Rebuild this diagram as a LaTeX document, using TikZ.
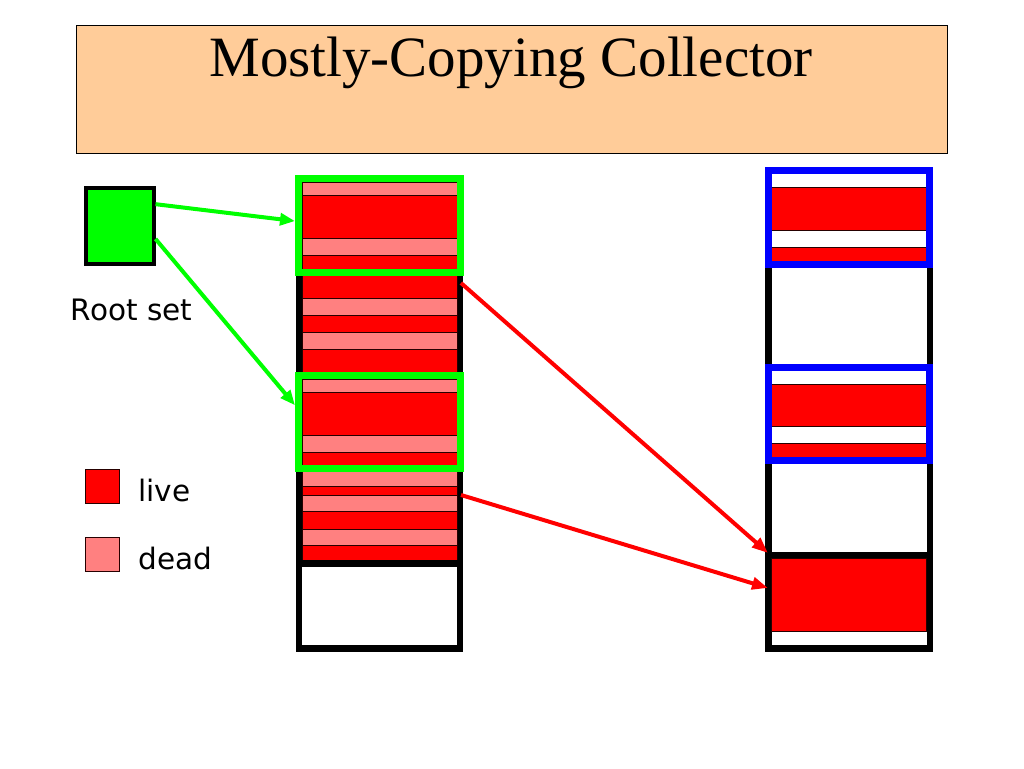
\documentclass[tikz,border=0pt]{standalone}
\usepackage{fontspec}
\setmainfont{Liberation Serif}
\newfontfamily\labelfont{DejaVu Sans}
\usetikzlibrary{arrows.meta}
\definecolor{live}{RGB}{255,0,0}
\definecolor{dead}{RGB}{255,128,128}
\definecolor{rootgreen}{RGB}{0,255,0}
\definecolor{pageblue}{RGB}{0,0,255}
\definecolor{peach}{RGB}{255,204,153}
\begin{document}
\begin{tikzpicture}[x=1pt,y=-1pt,
	obj/.style={draw=black!85!red, line width=0.8pt},
	space/.style={draw, line width=6.5pt, inner sep=0pt},
	page/.style={draw=#1, line width=7pt, inner sep=0pt},
	lbl/.style={anchor=base west, inner sep=0pt, font=\labelfont\fontsize{29.5}{33}\selectfont},
	garrow/.style={draw=rootgreen, line width=4pt, -{Triangle[length=15pt,width=12pt]}},
	rarrow/.style={draw=live, line width=4pt, -{Triangle[length=16pt,width=12pt]}}]
		\fill[white] (0,0) rectangle (1024,768);
		\useasboundingbox (0,0) rectangle (1024,768);
		\node[draw, line width=0.8pt, fill=peach, minimum width=871, minimum height=128] (titlebox) at (511.5,89) {};
		\node[anchor=base, inner sep=0pt, font=\fontsize{57}{60}\selectfont] (title) at (511,77) {Mostly-Copying Collector};
		\node[draw, line width=4pt, fill=rootgreen, minimum width=68, minimum height=76] (root) at (119.5,225.8) {};
		\node[lbl] (roottxt) at (70.7,320) {Root set};
		\node[obj, fill=live, minimum size=34] (keylive) at (102.5,486) {};
		\node[obj, fill=dead, minimum size=34] (keydead) at (102.5,554.5) {};
		\node[lbl] (livetxt) at (138.3,501.7) {live};
		\node[lbl] (deadtxt) at (138.3,569) {dead};
		\node[space, minimum width=161, minimum height=469.5] (fromsp) at (379.5,413.75) {};
		\node[space, minimum width=161.5, minimum height=478] (tosp) at (849,409.5) {};
		\foreach \a/\b/\c in {182.7/195.7/dead, 195.7/238.3/live, 238.3/255.7/dead, 255.7/272.5/live,
			272.5/298.3/live, 298.3/315/dead, 315/332.3/live, 332.3/349.3/dead, 349.3/379.3/live,
			379.3/392.3/dead, 392.3/435/live, 435/452.3/dead, 452.3/468.5/live, 468.5/486.7/dead,
			486.7/495/live, 495/511.7/dead, 511.7/529/live, 529/545.7/dead, 545.7/560/live}
			\filldraw[obj, fill=\c] (302,\a) rectangle (457,\b);
		\foreach \a/\b in {187.3/230, 247.3/261, 384/426.7, 443.3/457, 558.3/631.7}
			\filldraw[obj, fill=live] (771.7,\a) rectangle (926.7,\b);
		\draw[line width=6.5pt] (299,563.3) -- (460,563.3);
		\draw[line width=6.5pt] (768.3,555) -- (929.7,555);
		\node[page=rootgreen, minimum width=162, minimum height=94] (gA) at (379.5,225.5) {};
		\node[page=rootgreen, minimum width=162, minimum height=93] (gB) at (379.5,421.7) {};
		\node[page=pageblue, minimum width=161.4, minimum height=93.6] (bA) at (849,217.5) {};
		\node[page=pageblue, minimum width=161.4, minimum height=93.4] (bB) at (849,414) {};
		\coordinate (objA) at (461,283);
		\coordinate (objB) at (461,495);
		\coordinate (copyA) at (768,553);
		\coordinate (copyB) at (768,588);
		\draw[garrow] (root.31) -- (gA.177);
		\draw[garrow] (root.-20) -- (gB.169);
		\draw[rarrow] (objA) -- (copyA);
		\draw[rarrow] (objB) -- (copyB);
\end{tikzpicture}
\end{document}
